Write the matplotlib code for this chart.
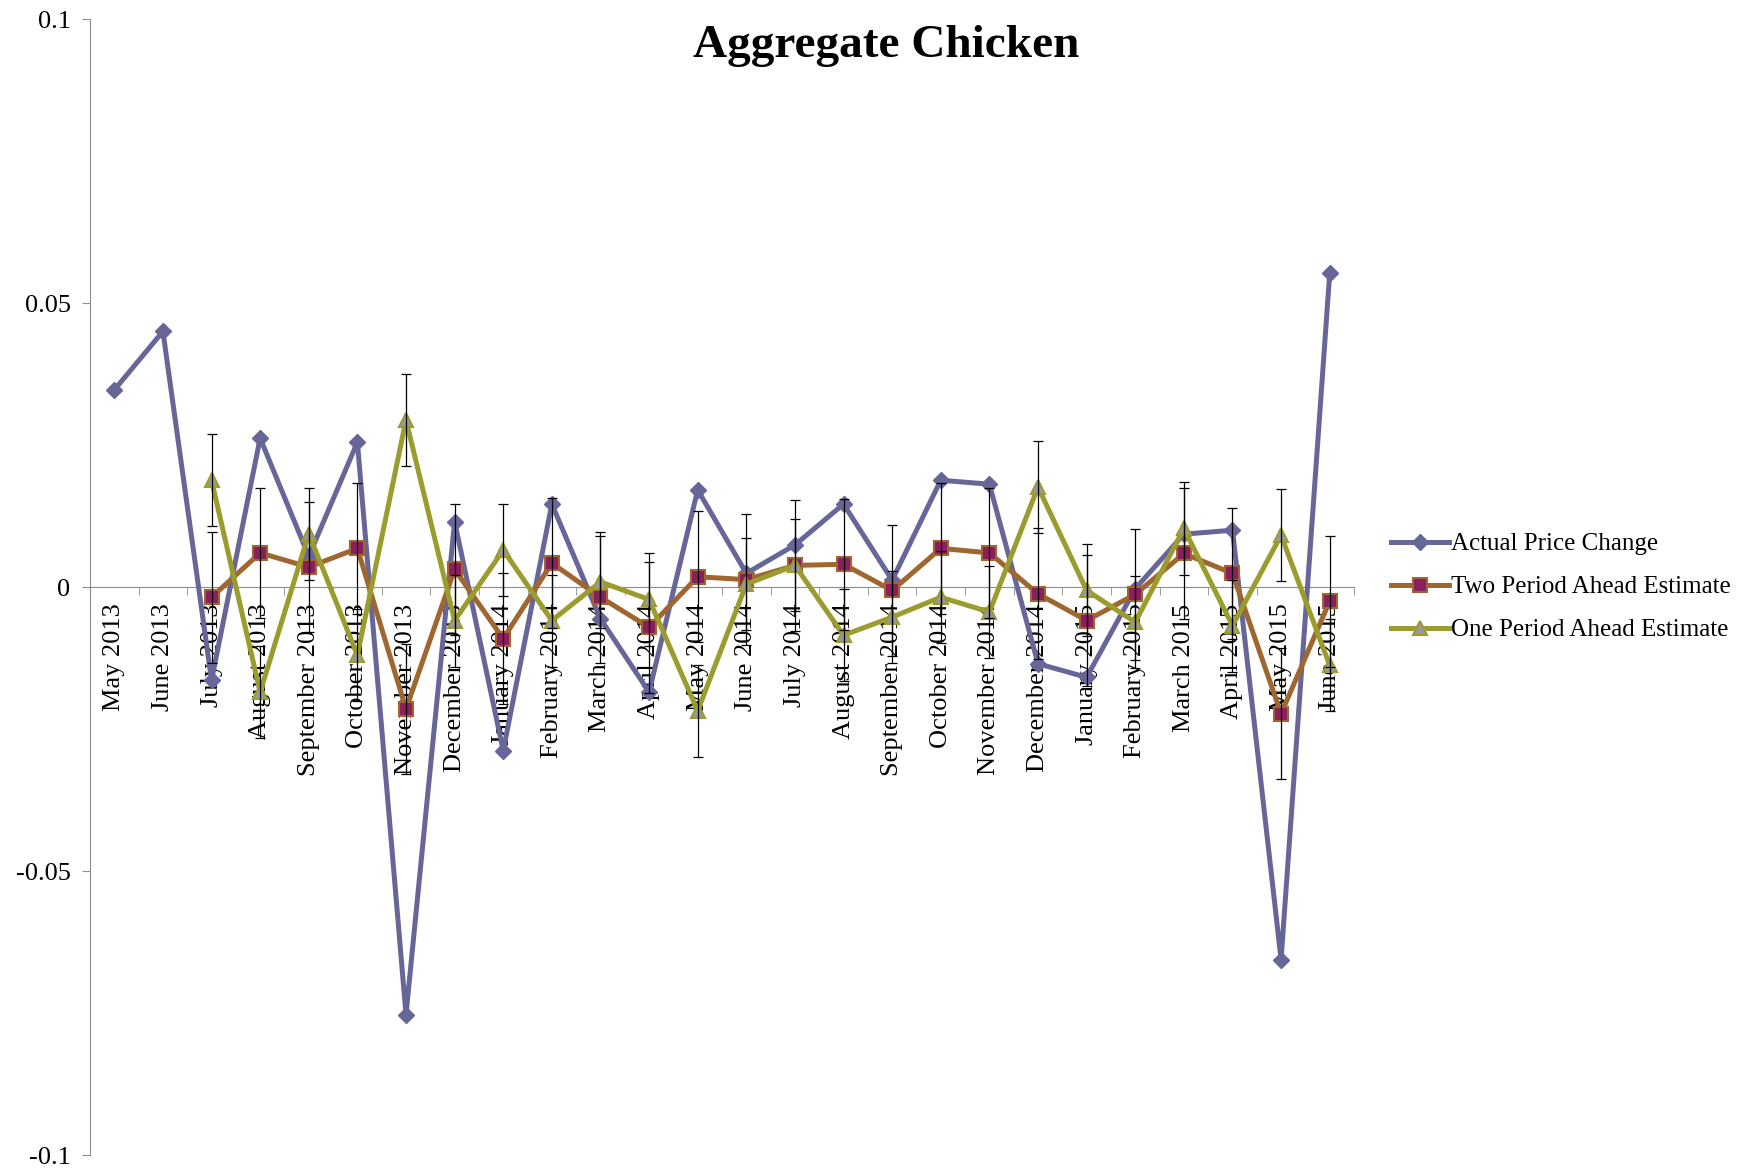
import numpy as np
import matplotlib

matplotlib.use('Agg')
import matplotlib.pyplot as plt

plt.rcParams['font.family'] = ['Liberation Serif', 'DejaVu Serif']

# ===== data =====
months = ['May 2013', 'June 2013', 'July 2013', 'August 2013', 'September 2013',
          'October 2013', 'November 2013', 'December 2013', 'January 2014',
          'February 2014', 'March 2014', 'April 2014', 'May 2014', 'June 2014',
          'July 2014', 'August 2014', 'September 2014', 'October 2014',
          'November 2014', 'December 2014', 'January 2015', 'February 2015',
          'March 2015', 'April 2015', 'May 2015', 'June 2015']

actual = [0.0347, 0.0450, -0.0164, 0.0262, 0.0054, 0.0255, -0.0753, 0.0115,
          -0.0288, 0.0146, -0.0056, -0.0185, 0.0171, 0.0024, 0.0074, 0.0146,
          0.0012, 0.0188, 0.0181, -0.0135, -0.0159, -0.0003, 0.0093, 0.0100,
          -0.0656, 0.0552]

nan = np.nan
two_ahead = [nan, nan, -0.0018, 0.0060, 0.0035, 0.0068, -0.0215, 0.0031,
             -0.0091, 0.0042, -0.0018, -0.0071, 0.0018, 0.0013, 0.0038, 0.0040,
             -0.0006, 0.0068, 0.0060, -0.0012, -0.0059, -0.0013, 0.0059, 0.0024,
             -0.0223, -0.0025]

one_ahead = [nan, nan, 0.0188, -0.0185, 0.0094, -0.0120, 0.0294, -0.0059,
             0.0065, -0.0059, 0.0009, -0.0022, -0.0218, 0.0005, 0.0038, -0.0085,
             -0.0053, -0.0018, -0.0044, 0.0176, -0.0006, -0.0062, 0.0103, -0.0068,
             0.0091, -0.0138]

two_err = [0, 0, 0.0115, 0.0115, 0.0115, 0.0115, 0.0115, 0.0115,
           0.0115, 0.0115, 0.0115, 0.0115, 0.0115, 0.0115, 0.0115, 0.0115,
           0.0115, 0.0115, 0.0115, 0.0115, 0.0115, 0.0115, 0.0115, 0.0115,
           0.0115, 0.0115]

one_err = [0, 0, 0.0081, 0.0081, 0.0081, 0.0081, 0.0081, 0.0081,
           0.0081, 0.0081, 0.0081, 0.0081, 0.0081, 0.0081, 0.0081, 0.0081,
           0.0081, 0.0081, 0.0081, 0.0081, 0.0081, 0.0081, 0.0081, 0.0081,
           0.0081, 0.0081]

yticks = [-0.1, -0.05, 0, 0.05, 0.1]
ytick_labels = ['-0.1', '-0.05', '0', '0.05', '0.1']

# ===== figure =====
fig = plt.figure(figsize=(17.43, 11.69), dpi=100)
ax = fig.add_axes([90 / 1743, 14 / 1169, 1264 / 1743, 1136 / 1169])
x = np.arange(len(months))

ax.plot(x, actual, color='#666699', lw=3.6, marker='D', ms=8,
        mfc='#666699', mec='#666699', label='Actual Price Change', zorder=3)
ax.plot(x, two_ahead, color='#A0662F', lw=3.6, marker='s', ms=9.5,
        mfc='#8B1E5E', mec='#A0662F', mew=1.5,
        label='Two Period Ahead Estimate', zorder=4)
ax.plot(x, one_ahead, color='#9C9C2E', lw=3.6, marker='^', ms=10.5,
        mfc='#999999', mec='#9C9C2E', mew=1.5,
        label='One Period Ahead Estimate', zorder=5)

ax.errorbar(x, two_ahead, yerr=two_err, fmt='none', ecolor='black',
            elinewidth=0.9, capsize=3.6, capthick=0.9, zorder=6)
ax.errorbar(x, one_ahead, yerr=one_err, fmt='none', ecolor='black',
            elinewidth=0.9, capsize=3.6, capthick=0.9, zorder=6)

ax.set_xlim(-0.5, len(months) - 0.5)
ax.set_ylim(-0.1, 0.1)

# axes styling like the spreadsheet chart
for s in ['top', 'right']:
    ax.spines[s].set_visible(False)
ax.spines['bottom'].set_position(('data', 0))
ax.spines['bottom'].set_color('#8c8c8c')
ax.spines['left'].set_color('#8c8c8c')
ax.spines['bottom'].set_zorder(1)

ax.set_xticks(x)
ax.set_xticklabels(months, rotation=90, fontsize=19, va='top', ha='center')
ax.set_xticks(np.arange(-0.5, len(months), 1), minor=True)
ax.tick_params(axis='x', which='major', length=0, pad=12)
ax.tick_params(axis='x', which='minor', length=6, color='#8c8c8c', direction='out')

ax.set_yticks(yticks)
ax.set_yticklabels(ytick_labels, fontsize=19)
ax.tick_params(axis='y', length=6, color='#8c8c8c', direction='out', pad=8)

fig.text(886 / 1743, 1 - 46 / 1169, 'Aggregate Chicken', fontsize=34,
         fontweight='bold', ha='center', va='center')

handles, labels = ax.get_legend_handles_labels()
fig.legend(handles, labels, loc='center left',
           bbox_to_anchor=(1391 / 1743, 1 - 587 / 1169), frameon=False,
           borderpad=0, borderaxespad=0,
           fontsize=18, handlelength=2.3, handletextpad=0.1, labelspacing=0.82)

fig.savefig('out.png', dpi=100)
